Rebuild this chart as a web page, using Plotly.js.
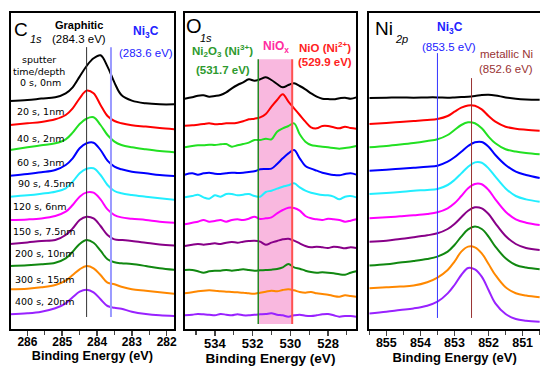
<!DOCTYPE html>
<html><head><meta charset="utf-8">
<script src="https://cdn.plot.ly/plotly-3.0.1.min.js"></script>
<style>html,body{margin:0;padding:0;background:#fff}#chart{width:540px;height:366px}</style>
</head><body><div id="chart"></div>
<script>
// ---------- DATA ----------
const sputterLabels = ["0 s, 0nm","20 s, 1nm","40 s, 2nm","60 s, 3nm","90 s, 4.5nm","120 s, 6nm","150 s, 7.5nm","200 s, 10nm","300 s, 15nm","400 s, 20nm"];
const seriesColors = ["#000000","#ff0000","#22e022","#0000ff","#22eeff","#ff00ff","#880088","#118811","#ff8800","#9922ff"];

// C 1s
const cEnergy = [286.5,286.0,285.6,285.2,284.9,284.7,284.5,284.3,284.1,283.9,283.7,283.5,283.3,283.0,282.6,282.2,281.75];
const cOffset = [224.7,199.7,176.7,153,129,106.3,83.3,59,35,13];
const c0s   = [3.3,4.3,5.7,7.0,11.0,17.0,27.7,38.3,46.0,49.0,37.7,21.7,9.3,3.7,1.0,0,0];
const c20s  = [4.3,6.0,7.3,10.0,14.3,21.0,31.0,38.7,36.0,24.3,13.3,8.3,6.0,4.0,2.7,1.3,0];
const c40s  = [2.3,5.0,7.0,9.0,13.0,19.7,28.3,33.7,35.0,27.3,17.3,10.7,7.3,5.0,3.0,1.3,0];
const c60s  = [0.3,2.0,3.7,6.0,11.0,17.7,27.7,32.7,33.3,26.0,15.3,9.3,6.7,4.3,2.7,1.0,0];
const c90s  = [3.3,4.7,6.3,8.3,11.7,18.3,26.7,31.3,31.7,25.0,15.0,9.0,6.7,5.0,3.3,1.7,0];
const c120s = [2.7,3.3,4.3,6.7,11.0,17.7,26.0,30.3,30.0,23.3,13.3,7.7,5.3,4.0,2.7,1.0,0];
const c150s = [1.7,3.3,4.7,5.7,10.7,17.3,25.7,29.0,27.3,19.7,10.7,6.3,5.7,4.7,3.0,1.3,0];
const c200s = [4.0,4.7,5.7,7.3,11.7,18.3,26.0,30.0,27.3,19.3,10.7,7.7,6.7,6.0,4.0,1.7,0];
const c300s = [4.7,5.3,6.7,9.0,13.3,19.0,24.7,28.0,25.7,19.0,11.3,9.7,7.3,4.7,3.3,1.7,0];
const c400s = [1.7,2.7,4.3,7.7,12.7,18.7,24.3,26.3,23.7,16.7,10.0,8.3,7.3,4.3,2.0,0.7,0];
const cSeries = [c0s,c20s,c40s,c60s,c90s,c120s,c150s,c200s,c300s,c400s];
const cRefEnergy = [284.3, 283.6];   // graphitic, Ni3C

// O 1s
const oEnergy = [535.6,535.2,534.9,534.6,534.3,534.0,533.7,533.4,533.1,532.8,532.5,532.2,531.9,531.6,531.3,531.0,530.7,530.4,530.1,529.8,529.5,529.2,528.9,528.6,528.3,528.0,527.7,527.4,527.1,526.8,526.5];
const oOffset = [689,601,541,461,389,314,242,163,97,37];
const o0s   = [2,6,11,12,8,10,13,21,33,43,51,60,56,60,66,58,46,36,43,48,40,30,18,8,2,1,0,3,5,2,6];
const o20s  = [9,10,12,14,16,13,14,16,16,18,22,28,30,34,44,66,86,103,81,61,41,21,4,1,8,8,4,1,6,2,0];
const o40s  = [4,8,10,10,12,11,13,14,6,10,14,18,26,26,30,28,51,61,68,76,43,21,11,8,6,4,2,0,2,4,8];
const o60s  = [2,6,2,6,8,5,4,6,8,7,8,10,12,18,19,20,34,51,66,76,51,28,20,14,8,4,1,0,4,6,2];
const o90s  = [6,10,14,6,2,12,8,16,16,12,14,16,10,8,22,26,32,38,42,48,36,26,20,16,13,12,8,0,8,10,6];
const o120s = [0,5,8,13,8,10,13,8,13,15,13,17,23,16,18,21,33,43,50,49,41,25,18,15,13,17,15,13,8,11,15];
const o150s = [7,11,13,11,13,15,13,17,19,17,20,22,23,20,11,17,22,27,29,23,15,7,3,5,3,1,5,3,0,3,1];
const o200s = [14,14,10,6,10,12,12,14,12,14,16,14,12,13,14,15,17,22,32,22,18,12,8,6,7,6,4,1,0,6,10];
const o300s = [10,13,16,18,19,18,16,15,14,13,12,10,9,12,15,18,16,20,22,19,14,12,14,10,8,6,2,0,4,2,0];
const o400s = [4,6,8,7,6,4,8,6,4,7,4,4,6,7,8,10,6,4,0,4,6,3,2,4,7,8,4,0,2,2,0];
const oSeries = [o0s,o20s,o40s,o60s,o90s,o120s,o150s,o200s,o300s,o400s];
const oRefEnergy = [531.7, 529.9];   // Ni2O3, NiO (NiOx band between)

// Ni 2p
const niEnergy = [855.5,855.0,854.6,854.2,853.8,853.5,853.2,853.0,852.8,852.6,852.4,852.2,852.0,851.8,851.5,851.2,850.9,850.5];
const niOffset = [229.3,198.3,174.7,151,127.3,104,79,59.7,31.7,7.3];
const ni0s   = [1.7,2.0,2.3,2.0,2.3,2.3,2.0,2.3,2.7,3.0,3.7,4.7,5.0,4.3,2.3,1.0,0.3,0];
const ni20s  = [6.7,7.7,8.7,9.7,10.7,11.7,14.7,19.0,23.0,25.3,25.0,21.3,14.7,9.0,4.0,2.0,1.0,0];
const ni40s  = [7.0,8.3,9.7,11.3,13.3,15.0,19.3,24.3,29.3,32.0,31.0,26.0,17.7,11.0,5.0,2.7,1.3,0];
const ni60s  = [7.3,8.3,9.3,10.3,11.3,12.3,16.3,20.7,26.3,32.0,35.7,36.0,31.3,23.0,13.0,6.3,3.0,0];
const ni90s  = [7.7,8.7,9.7,11.0,11.7,12.7,16.7,21.7,28.3,35.0,39.3,39.0,33.3,25.0,13.3,5.7,2.3,0];
const ni120s = [6.7,7.7,8.7,9.7,11.0,12.7,16.7,21.7,29.0,36.7,41.0,40.7,35.0,25.7,13.3,5.7,2.3,0];
const ni150s = [8.3,9.3,11.0,12.7,14.7,16.7,21.0,26.0,32.7,39.3,42.7,41.7,36.0,26.7,14.0,6.0,2.0,0];
const ni200s = [3.7,5.0,6.7,8.3,10.3,12.7,17.7,24.3,32.7,40.0,42.7,40.3,32.7,22.7,11.0,4.3,1.7,0];
const ni300s = [9.0,10.0,10.7,11.7,15.0,19.7,27.3,35.7,45.7,50.7,50.0,44.0,33.3,22.3,10.0,4.0,1.7,0];
const ni400s = [8.3,10.0,11.7,13.3,16.0,20.0,28.3,36.7,46.7,53.7,52.3,45.0,31.7,18.3,7.7,2.7,1.0,0];
const niSeries = [ni0s,ni20s,ni40s,ni60s,ni90s,ni120s,ni150s,ni200s,ni300s,ni400s];
const niRefEnergy = [853.5, 852.5];  // Ni3C, metallic Ni (as drawn)

// ---------- LAYOUT HELPERS ----------
const W = 540, H = 366, TOP = 13, BOT = 329;
const px = x => x / W, py = y => (BOT - y) / (BOT - TOP);
const SANS = "'Liberation Sans',Arial,Helvetica,sans-serif";

const traces = [];
function addPanel(energy, series, offsets, xa, ya) {
  series.forEach((s, i) => {
    traces.push({
      x: energy, y: s.map(v => v + offsets[i]), xaxis: xa, yaxis: ya,
      type: 'scatter', mode: 'lines', name: sputterLabels[i], showlegend: false,
      line: {color: seriesColors[i], width: 2, shape: 'spline', smoothing: 1}, hoverinfo: 'skip'
    });
  });
}
addPanel(cEnergy, cSeries, cOffset, 'x', 'y');
addPanel(oEnergy, oSeries, oOffset, 'x2', 'y2');
addPanel(niEnergy, niSeries, niOffset, 'x3', 'y3');

function xAxis(dom, range, dtick, minor, titleSize, tickSize, anchor) {
  return {
    domain: dom, range: range, dtick: dtick, tick0: 0, anchor: anchor,
    ticks: 'outside', ticklen: 5, tickwidth: 1.5, ticklabelstandoff: -4,
    minor: {dtick: minor, ticks: 'outside', ticklen: 4, tickwidth: 1.2},
    showline: true, linewidth: 2, linecolor: '#000', mirror: true, showgrid: false, zeroline: false,
    tickfont: {family: SANS, size: tickSize, color: '#000', weight: 'bold'},
    title: {text: 'Binding Energy (eV)', font: {family: SANS, size: titleSize, color: '#000', weight: 'bold'}, standoff: 3},
    fixedrange: true
  };
}
function yAxis(anchor, range, mirror) {
  return {
    domain: [0, 1], range: range, anchor: anchor, showticklabels: false, ticks: '',
    showline: true, linewidth: 2, linecolor: '#000', mirror: mirror, showgrid: false, zeroline: false, fixedrange: true
  };
}

const ann = [];
function txt(x, y, text, size, color, opts) {
  ann.push(Object.assign({xref: 'paper', yref: 'paper', x: px(x), y: py(y), text: text, showarrow: false,
    xanchor: 'center', yanchor: 'middle', font: {family: SANS, size: size, color: color}}, opts || {}));
}
// panel 1 texts
txt(21, 29, 'C', 19, '#000');
txt(36, 39, '<i>1s</i>', 11, '#000');
txt(79, 25, '<b>Graphitic</b>', 11, '#000');
txt(79, 39, '(284.3 eV)', 11.5, '#000');
txt(146, 32, '<b>Ni<sub>3</sub>C</b>', 12, '#2222ff');
txt(146, 53, '(283.6 eV)', 11.5, '#2222ff');
const LBL = {family: "'DejaVu Sans',sans-serif", size: 9.5, color: '#000'};
txt(39, 59, 'sputter', 9.5, '#000', {font: LBL});
txt(39, 71, 'time/depth', 9.5, '#000', {font: LBL});
const labelPos = [[40,83,'center'],[15,111,'left'],[15,138,'left'],[15,162,'left'],[16,183,'left'],[11,207,'left'],[11,231,'left'],[13,253,'left'],[13,279,'left'],[13,301,'left']];
sputterLabels.forEach((s, i) => {
  txt(labelPos[i][0], labelPos[i][1], s, 9.5, '#000', {font: LBL, xanchor: labelPos[i][2]});
});
// panel 2 texts
txt(194, 26, 'O', 20, '#000');
txt(206, 38, '<i>1s</i>', 11, '#000');
txt(222, 51, '<b>Ni<sub>2</sub>O<sub>3</sub> (Ni<sup>3+</sup>)</b>', 11.5, '#2e9a2e');
txt(223, 70, '<b>(531.7 eV)</b>', 11.5, '#2e9a2e');
txt(276, 47, '<b>NiO<sub>x</sub></b>', 12, '#ff2ca0');
txt(325, 47, '<b>NiO (Ni<sup>2+</sup>)</b>', 11.5, '#ff2222');
txt(325, 62, '<b>(529.9 eV)</b>', 11.5, '#ff2222');
// panel 3 texts
txt(384, 28, 'Ni', 19, '#000');
txt(401, 39, '<i>2p</i>', 11, '#000');
txt(450, 28, '<b>Ni<sub>3</sub>C</b>', 12, '#2222ff');
txt(449, 47, '(853.5 eV)', 11.5, '#2222ff');
txt(506, 54, 'metallic Ni', 11.5, '#993333');
txt(506, 69, '(852.6 eV)', 11.5, '#993333');

const shapes = [
  {type: 'line', xref: 'x', yref: 'y domain', x0: cRefEnergy[0], x1: cRefEnergy[0], y0: 0.038, y1: 0.892, line: {color: '#333', width: 1}},
  {type: 'line', xref: 'x', yref: 'y domain', x0: cRefEnergy[1], x1: cRefEnergy[1], y0: 0.038, y1: 0.892, line: {color: '#9a9aff', width: 2}},
  {type: 'rect', xref: 'x2', yref: 'y2 domain', x0: oRefEnergy[0], x1: oRefEnergy[1], y0: 0.016, y1: 0.854, line: {width: 0}, fillcolor: '#f9b8df', layer: 'below'},
  {type: 'line', xref: 'x2', yref: 'y2 domain', x0: oRefEnergy[0], x1: oRefEnergy[0], y0: 0.016, y1: 0.854, line: {color: '#228822', width: 1.5}},
  {type: 'line', xref: 'x2', yref: 'y2 domain', x0: oRefEnergy[1], x1: oRefEnergy[1], y0: 0.016, y1: 0.854, line: {color: '#ff5050', width: 2}},
  {type: 'line', xref: 'x3', yref: 'y3 domain', x0: niRefEnergy[0], x1: niRefEnergy[0], y0: 0.035, y1: 0.873, line: {color: '#3333ff', width: 1}},
  {type: 'line', xref: 'x3', yref: 'y3 domain', x0: niRefEnergy[1], x1: niRefEnergy[1], y0: 0.035, y1: 0.794, line: {color: '#993333', width: 1}}
];

const layout = {
  width: W, height: H, margin: {l: 0, r: 0, t: TOP, b: H - BOT}, paper_bgcolor: '#fff', plot_bgcolor: '#fff',
  showlegend: false,
  xaxis: xAxis([10.7 / W, 174 / W], [286.48, 281.79], 1, 0.5, 12.7, 12, 'y'),
  yaxis: yAxis('x', [0, 316], true),
  xaxis2: xAxis([184.7 / W, 356.3 / W], [535.6, 526.5], 2, 1, 13.6, 13, 'y2'),
  yaxis2: yAxis('x2', [0, 948], true),
  xaxis3: xAxis([369.3 / W, 1], [855.5, 850.49], 1, 0.5, 13, 12.5, 'y3'),
  yaxis3: yAxis('x3', [0, 316], false),
  annotations: ann, shapes: shapes
};
Plotly.newPlot('chart', traces, layout, {staticPlot: true, displayModeBar: false});
</script></body></html>
